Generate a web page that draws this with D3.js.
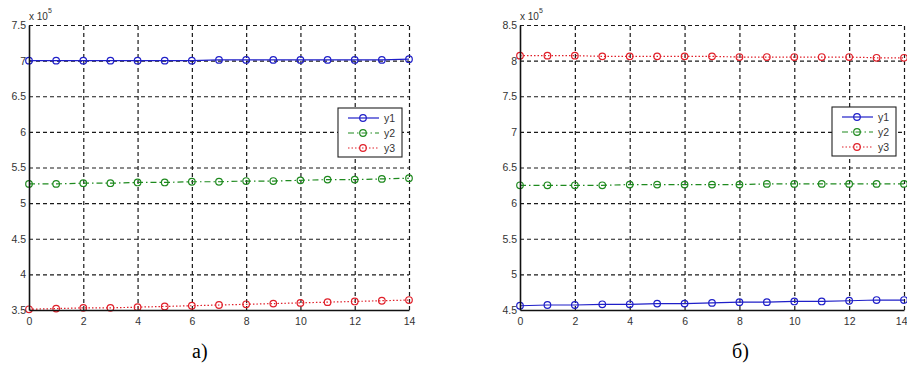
<!DOCTYPE html>
<html>
<head>
<meta charset="utf-8">
<script src="https://cdn.jsdelivr.net/npm/d3@7"></script>
<style>
  body { margin: 0; background: #fff; }
  svg { display: block; }
</style>
</head>
<body>
<script>
// step numbers on the x axis
const steps = [0, 1, 2, 3, 4, 5, 6, 7, 8, 9, 10, 11, 12, 13, 14];
const xTicks = [0, 2, 4, 6, 8, 10, 12, 14];

// panel a) values, x 10^5
const aY1 = [7.00, 7.00, 7.00, 7.00, 7.00, 7.00, 7.00, 7.01, 7.01, 7.01, 7.01, 7.01, 7.01, 7.01, 7.02];
const aY2 = [5.27, 5.27, 5.28, 5.28, 5.29, 5.29, 5.30, 5.30, 5.31, 5.31, 5.32, 5.33, 5.33, 5.34, 5.35];
const aY3 = [3.51, 3.52, 3.53, 3.53, 3.54, 3.55, 3.56, 3.57, 3.58, 3.59, 3.60, 3.61, 3.62, 3.63, 3.64];
const aTicks = [3.5, 4, 4.5, 5, 5.5, 6, 6.5, 7, 7.5];

// panel б) values, x 10^5
const bY1 = [4.56, 4.57, 4.57, 4.58, 4.58, 4.59, 4.59, 4.60, 4.61, 4.61, 4.62, 4.62, 4.63, 4.64, 4.64];
const bY2 = [6.25, 6.25, 6.25, 6.25, 6.26, 6.26, 6.26, 6.26, 6.26, 6.27, 6.27, 6.27, 6.27, 6.27, 6.27];
const bY3 = [8.07, 8.07, 8.07, 8.06, 8.06, 8.06, 8.06, 8.06, 8.05, 8.05, 8.05, 8.05, 8.05, 8.04, 8.04];
const bTicks = [4.5, 5, 5.5, 6, 6.5, 7, 7.5, 8, 8.5];

const seriesNames = ["y1", "y2", "y3"];
const captions = ["а)", "б)"];

const styles = {
    y1: { color: "#1f1fc8", dash: null },
    y2: { color: "#1f8a1f", dash: "6,3,1.5,3" },
    y3: { color: "#e0202a", dash: "1.5,2" }
};

const svg = d3.select("body")
    .append("svg")
    .attr("width", 907)
    .attr("height", 367);

function drawPanel(p) {
    const x = d3.scaleLinear().domain([0, 14]).range([p.left, p.right]);
    const y = d3.scaleLinear().domain(d3.extent(p.ticks)).range([p.bottom, p.top]);
    const g = svg.append("g");

    // grid
    g.append("g")
        .attr("transform", "translate(0," + p.bottom + ")")
        .call(d3.axisBottom(x).tickValues(xTicks.slice(1)).tickSize(-(p.bottom - p.top)).tickFormat(""))
        .call(s => s.select(".domain").remove())
        .selectAll("line")
        .attr("stroke", "#1a1a1a").attr("stroke-width", 1.2).attr("stroke-dasharray", "4,3");
    g.append("g")
        .attr("transform", "translate(" + p.left + ",0)")
        .call(d3.axisLeft(y).tickValues(p.ticks.slice(1)).tickSize(-(p.right - p.left)).tickFormat(""))
        .call(s => s.select(".domain").remove())
        .selectAll("line")
        .attr("stroke", "#1a1a1a").attr("stroke-width", 1.2).attr("stroke-dasharray", "4,3");

    // series
    const line = d3.line().x((d, i) => x(steps[i])).y(d => y(d));
    p.series.forEach((vals, k) => {
        const st = styles[seriesNames[k]];
        g.append("path")
            .datum(vals)
            .attr("d", line)
            .attr("fill", "none")
            .attr("stroke", st.color)
            .attr("stroke-width", 1.2)
            .attr("stroke-dasharray", st.dash);
        g.selectAll(null)
            .data(vals)
            .enter().append("circle")
            .attr("cx", (d, i) => x(steps[i]))
            .attr("cy", d => y(d))
            .attr("r", 3.3)
            .attr("fill", "none")
            .attr("stroke", st.color)
            .attr("stroke-width", 1.2);
    });

    // axes (left + bottom)
    const fmt = d3.format("~g");
    const ax = g.append("g")
        .attr("transform", "translate(0," + p.bottom + ")")
        .call(d3.axisBottom(x).tickValues(xTicks).tickSize(0).tickPadding(8).tickFormat(fmt));
    const ay = g.append("g")
        .attr("transform", "translate(" + p.left + ",0)")
        .call(d3.axisLeft(y).tickValues(p.ticks).tickSize(0).tickPadding(3).tickFormat(fmt));
    [ax, ay].forEach(a => {
        a.select(".domain").attr("stroke", "#111").attr("stroke-width", 1.6);
        a.selectAll("text")
            .attr("font-family", "Arial, 'Liberation Sans', sans-serif")
            .attr("font-size", 10.5)
            .attr("fill", "#333");
    });
    // keep the last x label inside the page
    ax.selectAll(".tick text")
        .filter(d => x(d) > 900)
        .attr("text-anchor", "end")
        .attr("dx", 3);

    // exponent label
    const ex = g.append("text")
        .attr("x", p.left)
        .attr("y", p.top - 5)
        .attr("font-family", "Arial, 'Liberation Sans', sans-serif")
        .attr("font-size", 10)
        .attr("fill", "#333");
    ex.append("tspan").text("x 10");
    ex.append("tspan").attr("dy", -7).attr("font-size", 7).text("5");

    // legend
    const lg = g.append("g").attr("transform", "translate(" + p.legX + "," + p.legY + ")");
    lg.append("rect")
        .attr("width", 64).attr("height", 49)
        .attr("fill", "#fff").attr("stroke", "#222").attr("stroke-width", 1.1);
    seriesNames.forEach((name, k) => {
        const st = styles[name];
        const yy = 10 + k * 15;
        lg.append("line")
            .attr("x1", 10).attr("x2", 41).attr("y1", yy).attr("y2", yy)
            .attr("stroke", st.color).attr("stroke-width", 1.2)
            .attr("stroke-dasharray", st.dash);
        lg.append("circle")
            .attr("cx", 25).attr("cy", yy).attr("r", 3.3)
            .attr("fill", "none").attr("stroke", st.color).attr("stroke-width", 1.2);
        lg.append("text")
            .attr("x", 46).attr("y", yy + 4)
            .attr("font-family", "Arial, 'Liberation Sans', sans-serif")
            .attr("font-size", 10.5)
            .attr("fill", "#333")
            .text(name);
    });

    // caption
    g.append("text")
        .attr("x", p.capX).attr("y", 358)
        .attr("font-family", "'Times New Roman', 'Liberation Serif', serif")
        .attr("font-size", 20)
        .attr("fill", "#000")
        .text(p.caption);
}

drawPanel({
    left: 29, right: 409, top: 25, bottom: 310,
    ticks: aTicks, series: [aY1, aY2, aY3],
    legX: 338, legY: 108, capX: 192, caption: captions[0]
});
drawPanel({
    left: 520, right: 904, top: 25, bottom: 310,
    ticks: bTicks, series: [bY1, bY2, bY3],
    legX: 832, legY: 107, capX: 732, caption: captions[1]
});
</script>
</body>
</html>
